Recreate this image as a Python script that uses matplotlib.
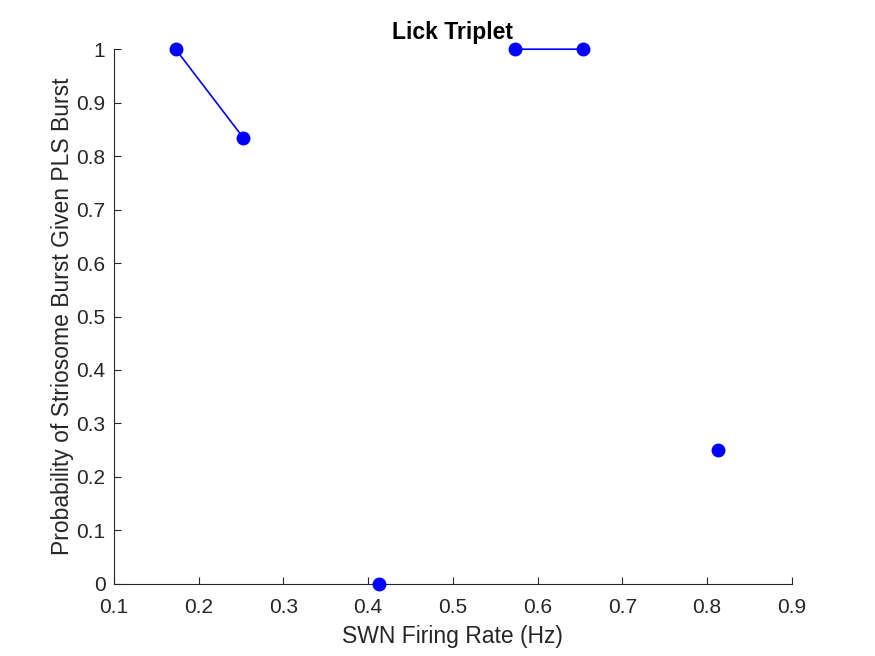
"""Lick triplet: striosome burst probability vs SWN firing rate."""
import matplotlib

matplotlib.use("Agg")

import matplotlib.pyplot as plt
import numpy as np

# NaN entries break the line between unconnected groups
firing_rate = [0.173, 0.253, np.nan, 0.413, np.nan, 0.573, 0.653, np.nan, 0.813]
probability = [1.0, 0.834, np.nan, 0.0, np.nan, 1.0, 1.0, np.nan, 0.25]

x_ticks = [0.1, 0.2, 0.3, 0.4, 0.5, 0.6, 0.7, 0.8, 0.9]
y_ticks = [0, 0.1, 0.2, 0.3, 0.4, 0.5, 0.6, 0.7, 0.8, 0.9, 1]
TEXT_COLOR = "#262626"

plt.rcParams["font.family"] = ["Liberation Sans", "DejaVu Sans"]

fig = plt.figure(figsize=(8.75, 6.56), dpi=100)
ax = fig.add_axes([0.13, 0.11, 0.775, 0.815])

ax.plot(firing_rate, probability, "-o", color="#0000ff", linewidth=1.2,
        markersize=9, clip_on=False, zorder=3)

ax.set_xlim(0.1, 0.9)
ax.set_ylim(0, 1)
ax.set_xticks(x_ticks)
ax.set_yticks(y_ticks)
ax.set_xticklabels([f"{t:g}" for t in x_ticks])
ax.set_yticklabels([f"{t:g}" for t in y_ticks])

for side in ("top", "right"):
    ax.spines[side].set_visible(False)
for side in ("left", "bottom"):
    ax.spines[side].set_color(TEXT_COLOR)
    ax.spines[side].set_linewidth(0.8)
ax.tick_params(direction="in", length=5, width=0.8, colors=TEXT_COLOR,
               labelsize=15)
ax.tick_params(axis="x", pad=10)
ax.tick_params(axis="y", pad=6)

ax.set_xlabel("SWN Firing Rate (Hz)", fontsize=16.5, color=TEXT_COLOR,
              labelpad=6)
ax.set_ylabel("Probability of Striosome Burst Given PLS Burst", fontsize=16.5,
              color=TEXT_COLOR, labelpad=2)
ax.set_title("Lick Triplet", fontsize=16.5, fontweight="bold", color="black",
             pad=7)

fig.savefig("out.png", dpi=100)
plt.close(fig)
